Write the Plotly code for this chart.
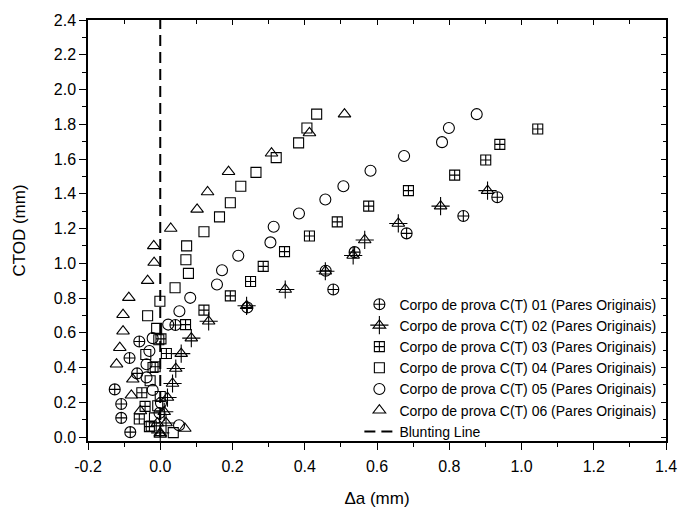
import plotly.graph_objects as go

# Crack extension (mm) and CTOD (mm) pairs for each C(T) specimen
da_01 = [-0.083, -0.108, -0.108, -0.126, -0.064, -0.085, -0.058, 0.042, 0.241, 0.479,
         0.458, 0.538, 0.682, 0.839, 0.933]
ctod_01 = [0.028, 0.110, 0.190, 0.274, 0.366, 0.455, 0.550, 0.645, 0.745, 0.849,
           0.957, 1.064, 1.172, 1.272, 1.380]

da_02 = [0.000, 0.016, 0.011, 0.020, 0.034, 0.043, 0.058, 0.086, 0.134, 0.239,
         0.346, 0.457, 0.534, 0.566, 0.659, 0.776, 0.906]
ctod_02 = [0.024, 0.081, 0.145, 0.227, 0.308, 0.394, 0.480, 0.569, 0.666, 0.755,
           0.849, 0.954, 1.045, 1.134, 1.229, 1.329, 1.418]

da_03 = [-0.030, -0.058, -0.042, -0.051, -0.014, 0.017, 0.002, 0.070, 0.121, 0.194,
         0.250, 0.285, 0.344, 0.413, 0.490, 0.577, 0.687, 0.815, 0.901, 0.940, 1.045]
ctod_03 = [0.060, 0.104, 0.176, 0.255, 0.404, 0.481, 0.565, 0.647, 0.730, 0.812,
           0.895, 0.982, 1.067, 1.157, 1.238, 1.329, 1.418, 1.507, 1.594, 1.684, 1.773]

da_04 = [0.036, -0.025, -0.016, -0.007, 0.000, -0.028, -0.020, -0.040, -0.004, -0.010,
         -0.035, -0.001, 0.041, 0.078, 0.071, 0.073, 0.121, 0.164, 0.194, 0.223,
         0.265, 0.321, 0.383, 0.406, 0.433]
ctod_04 = [0.025, 0.063, 0.110, 0.180, 0.233, 0.324, 0.400, 0.475, 0.560, 0.625,
           0.698, 0.781, 0.859, 0.942, 1.020, 1.100, 1.181, 1.267, 1.348, 1.443,
           1.523, 1.608, 1.693, 1.778, 1.858]

da_05 = [0.052, -0.002, 0.002, -0.021, -0.038, -0.038, -0.030, -0.021, 0.022, 0.053,
         0.083, 0.157, 0.171, 0.216, 0.305, 0.314, 0.384, 0.457, 0.507, 0.582,
         0.675, 0.780, 0.799, 0.876]
ctod_05 = [0.068, 0.138, 0.195, 0.271, 0.343, 0.419, 0.495, 0.569, 0.647, 0.724,
           0.801, 0.878, 0.960, 1.043, 1.120, 1.210, 1.286, 1.367, 1.443, 1.532,
           1.617, 1.697, 1.778, 1.858]

da_06 = [0.000, 0.068, -0.008, -0.055, -0.080, -0.076, -0.121, -0.112, -0.103, -0.103,
         -0.087, -0.035, -0.017, -0.018, 0.029, 0.102, 0.131, 0.189, 0.308, 0.413, 0.510]
ctod_06 = [0.015, 0.049, 0.080, 0.150, 0.240, 0.332, 0.419, 0.514, 0.609, 0.704,
           0.802, 0.900, 1.004, 1.100, 1.200, 1.310, 1.410, 1.527, 1.633, 1.750, 1.858]

blunting_da = [0.0, 0.0]
blunting_ctod = [0.0, 2.4]

series_names = [
    "Corpo de prova C(T) 01 (Pares Originais)",
    "Corpo de prova C(T) 02 (Pares Originais)",
    "Corpo de prova C(T) 03 (Pares Originais)",
    "Corpo de prova C(T) 04 (Pares Originais)",
    "Corpo de prova C(T) 05 (Pares Originais)",
    "Corpo de prova C(T) 06 (Pares Originais)",
]
blunting_name = "Blunting Line"

x_tickvals = [-0.2, 0.0, 0.2, 0.4, 0.6, 0.8, 1.0, 1.2, 1.4]
x_ticktext = ["-0.2", "0.0", "0.2", "0.4", "0.6", "0.8", "1.0", "1.2", "1.4"]
y_tickvals = [0.0, 0.2, 0.4, 0.6, 0.8, 1.0, 1.2, 1.4, 1.6, 1.8, 2.0, 2.2, 2.4]
y_ticktext = ["0.0", "0.2", "0.4", "0.6", "0.8", "1.0", "1.2", "1.4", "1.6", "1.8",
              "2.0", "2.2", "2.4"]

x_range = [-0.2, 1.4]
y_range = [-0.023, 2.4]

FONT = "Arial, Liberation Sans, sans-serif"
LW = 1.1
LEG_FONT = 14

fig = go.Figure()

def add_series(x, y, name, symbol, size, legend="legend"):
    fig.add_trace(go.Scatter(
        x=x, y=y, mode="markers", name=name, legend=legend,
        marker=dict(symbol=symbol, size=size, color="black",
                    line=dict(color="black", width=LW)),
    ))

add_series(da_01, ctod_01, series_names[0], "circle-cross-open", 11)
add_series(da_02, ctod_02, series_names[1], "triangle-up-open", 11)
add_series(da_03, ctod_03, series_names[2], "square-cross-open", 10)
add_series(da_04, ctod_04, series_names[3], "square-open", 10)
add_series(da_05, ctod_05, series_names[4], "circle-open", 11)
add_series(da_06, ctod_06, series_names[5], "triangle-up-open", 11)

# blunting line
fig.add_trace(go.Scatter(
    x=blunting_da, y=blunting_ctod, mode="lines", name=blunting_name,
    line=dict(color="black", width=2, dash="11px,6px"),
))

# the cross drawn through each specimen 02 triangle (its key sits in a second,
# transparent legend laid exactly over the first one)
add_series(da_02, ctod_02, series_names[1], "cross-thin-open", 13, legend="legend2")

plot_h = 517 - 19 - 72
item_h = max(LEG_FONT * 1.3, 16) + 3
leg_y = 0.362
leg_x = 0.992
legend_common = dict(
    xanchor="right", yanchor="top", x=leg_x,
    bgcolor="rgba(0,0,0,0)", borderwidth=0,
    itemclick=False, itemdoubleclick=False, tracegroupgap=0,
)

axis_common = dict(
    showgrid=False, zeroline=False, showline=True, linecolor="black",
    linewidth=1.5, mirror=True, ticks="outside", tickcolor="black",
    tickwidth=1.3, ticklen=7,
    tickfont=dict(family=FONT, size=16, color="black"),
    minor=dict(ticks="outside", ticklen=4, tickwidth=1.3, tickcolor="black", dtick=0.1),
)

mirror_common = dict(
    showgrid=False, zeroline=False, showline=False, ticks="inside",
    tickcolor="black", tickwidth=1.3, ticklen=5, dtick=0.2, showticklabels=False,
    minor=dict(ticks="inside", ticklen=3.5, tickwidth=1.3, tickcolor="black", dtick=0.1),
)

fig.update_layout(
    width=689, height=517,
    margin=dict(l=88, r=18, t=19, b=72),
    paper_bgcolor="white", plot_bgcolor="white",
    font=dict(family=FONT, color="black"),
    showlegend=True,
    legend=dict(y=leg_y, font=dict(family=FONT, size=LEG_FONT, color="black"),
                **legend_common),
    legend2=dict(y=leg_y - item_h / plot_h,
                 font=dict(family=FONT, size=LEG_FONT, color="rgba(0,0,0,0)"),
                 **legend_common),
    xaxis=dict(range=x_range, tickmode="array", tickvals=x_tickvals, ticktext=x_ticktext,
               ticklabelstandoff=3,
               title=dict(text="Δa (mm)", font=dict(family=FONT, size=17), standoff=18),
               **axis_common),
    yaxis=dict(range=y_range, tickmode="array", tickvals=y_tickvals, ticktext=y_ticktext,
               title=dict(text="CTOD (mm)", font=dict(family=FONT, size=17), standoff=24),
               **axis_common),
    xaxis2=dict(range=x_range, overlaying="x", side="top", anchor="y", tick0=0,
                **mirror_common),
    yaxis2=dict(range=y_range, overlaying="y", side="right", anchor="x", tick0=0,
                **mirror_common),
)

# invisible anchor trace so the mirrored axes are drawn
fig.add_trace(go.Scatter(x=x_range, y=y_range, xaxis="x2", yaxis="y2",
                         mode="markers", marker=dict(opacity=0),
                         showlegend=False, hoverinfo="skip"))

fig.write_html("out.html")
